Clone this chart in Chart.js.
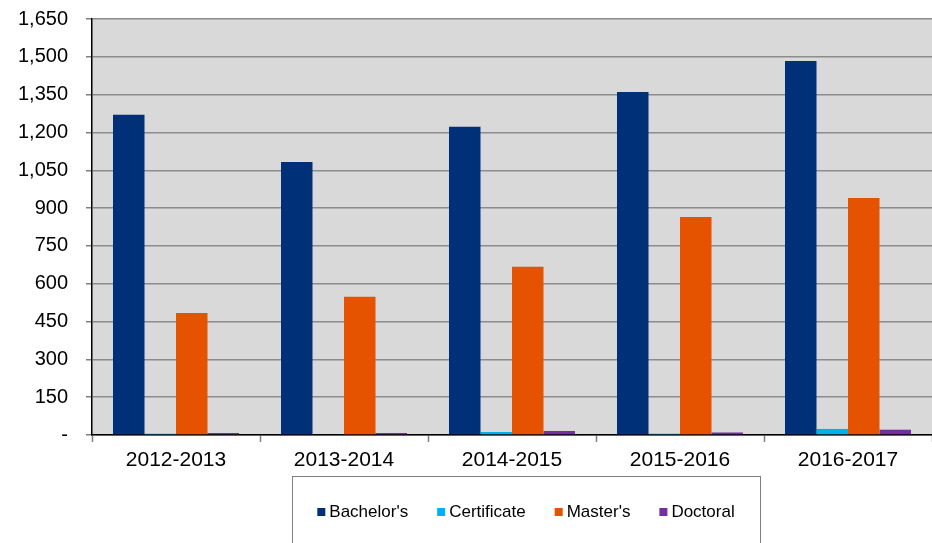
<!DOCTYPE html>
<html>
<head>
<meta charset="utf-8">
<script src="https://cdn.jsdelivr.net/npm/chart.js@4/dist/chart.umd.min.js"></script>
<style>
  html, body { margin: 0; padding: 0; background: #fff; }
  #wrap { width: 932px; height: 543px; position: relative; }
</style>
</head>
<body>
<div id="wrap"><canvas id="chartGraph"></canvas></div>
<script>
const years = ['2012-2013', '2013-2014', '2014-2015', '2015-2016', '2016-2017'];
const bachelors = [1270, 1083, 1223, 1360, 1483];
const certificate = [5, 0, 12, 5, 24];
const masters = [484, 548, 667, 865, 940];
const doctoral = [8, 8, 16, 10, 21];
const yTicks = [0, 150, 300, 450, 600, 750, 900, 1050, 1200, 1350, 1500, 1650];

const ctx = document.getElementById('chartGraph');
const fontFamily = "'Liberation Sans', Arial, sans-serif";

// grey plot background
const plotBg = {
  id: 'plotBg',
  beforeDraw(chart) {
    const a = chart.chartArea;
    const c = chart.ctx;
    c.save();
    c.fillStyle = '#d9d9d9';
    c.fillRect(a.left, a.top, a.right - a.left, a.bottom - a.top);
    c.restore();
  }
};

// excel-style boxed legend below the axis
const boxLegend = {
  id: 'boxLegend',
  afterDraw(chart) {
    const c = chart.ctx;
    const sets = chart.data.datasets;
    c.save();
    c.font = '17px ' + fontFamily;
    const gap = 29, sw = 8, sp = 4;
    let widths = sets.map((d) => sw + sp + c.measureText(d.label).width);
    let total = widths.reduce((s, w) => s + w, 0) + gap * (sets.length - 1);
    const boxL = 292, boxR = 760, boxT = 476;
    c.strokeStyle = '#7f7f7f';
    c.lineWidth = 1;
    c.strokeRect(boxL + 0.5, boxT + 0.5, boxR - boxL, 100);
    let x = (boxL + boxR) / 2 - total / 2;
    const y = 512;
    sets.forEach((d, i) => {
      c.fillStyle = d.backgroundColor;
      c.fillRect(x, y - 4, sw, sw);
      c.fillStyle = '#000';
      c.textBaseline = 'middle';
      c.textAlign = 'left';
      c.fillText(d.label, x + sw + sp, y);
      x += widths[i] + gap;
    });
    c.restore();
  }
};

let myChart = new Chart(ctx, {
  type: 'bar',
  data: {
    labels: years,
    datasets: [
      { label: "Bachelor's", data: bachelors, backgroundColor: '#003077' },
      { label: 'Certificate', data: certificate, backgroundColor: '#00b0f0' },
      { label: "Master's", data: masters, backgroundColor: '#e55300' },
      { label: 'Doctoral', data: doctoral, backgroundColor: '#7030a0' }
    ]
  },
  options: {
    responsive: true,
    maintainAspectRatio: false,
    animation: false,
    layout: { padding: { top: 19, right: 0, left: 0, bottom: 0 } },
    datasets: {
      bar: { categoryPercentage: 0.75, barPercentage: 1.0, borderWidth: 0 }
    },
    scales: {
      x: {
        afterFit(scale) {
          scale.height = 108;
          scale.paddingLeft = 0;
          scale.paddingRight = 0;
        },
        grid: {
          offset: true,
          drawOnChartArea: false,
          tickLength: 7,
          tickColor: '#7f7f7f',
          tickWidth: 1.5
        },
        border: { color: '#000', width: 1.5 },
        ticks: {
          color: '#000',
          padding: 6,
          font: { family: fontFamily, size: 21 }
        }
      },
      y: {
        min: 0,
        max: 1650,
        afterFit(scale) {
          scale.width = 92;
          scale.paddingTop = 0;
          scale.paddingBottom = 0;
        },
        afterBuildTicks(scale) {
          scale.ticks = yTicks.map((v) => ({ value: v }));
        },
        grid: {
          color: '#8c8c8c',
          lineWidth: 1.5,
          tickLength: 6,
          tickColor: '#7f7f7f'
        },
        border: { color: '#000', width: 1.5 },
        ticks: {
          color: '#000',
          padding: 18,
          font: { family: fontFamily, size: 20 },
          callback: (v) => v === 0 ? '-' : v.toLocaleString('en-US')
        }
      }
    },
    plugins: {
      legend: { display: false },
      tooltip: { enabled: false },
      title: { display: false }
    }
  },
  plugins: [plotBg, boxLegend]
});
</script>
</body>
</html>
